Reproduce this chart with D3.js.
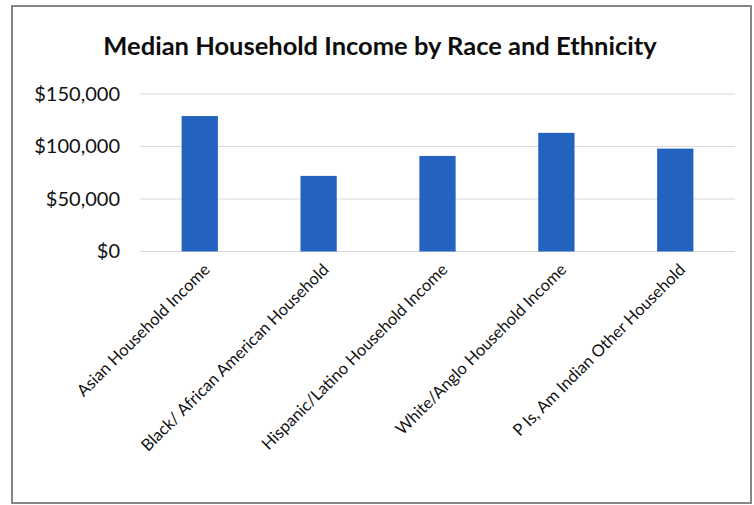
<!DOCTYPE html>
<html>
<head>
<meta charset="utf-8">
<script src="https://cdn.jsdelivr.net/npm/d3@7"></script>
<style>
  html, body { margin: 0; padding: 0; background: #fff; }
  svg { display: block; }
</style>
</head>
<body>
<svg id="chart" width="754" height="505"></svg>
<script>
// Median household income by race and ethnicity
const categories = [
  "Asian Household Income",
  "Black/ African American Household",
  "Hispanic/Latino Household Income",
  "White/Anglo Household Income",
  "P Is, Am Indian Other Household"
];
const incomes = [129000, 72000, 91000, 113000, 98000];
const tickValues = [0, 50000, 100000, 150000];
const tickLabels = ["$0", "$50,000", "$100,000", "$150,000"];

const svg = d3.select("#chart");
const plot = { left: 140, right: 735, top: 94, bottom: 251.5 };
const font = "Lato, 'Open Sans', sans-serif";

// chart frame
svg.append("rect")
  .attr("x", 12).attr("y", 6)
  .attr("width", 739).attr("height", 497)
  .attr("fill", "#fff")
  .attr("stroke", "#7a7a7a")
  .attr("stroke-width", 1.8);

// title
svg.append("text")
  .attr("x", 380).attr("y", 55)
  .attr("text-anchor", "middle")
  .attr("font-family", font)
  .attr("font-weight", "bold")
  .attr("font-size", 25.5)
  .attr("fill", "#0d0d0d")
  .text("Median Household Income by Race and Ethnicity");

const x = d3.scaleBand()
  .domain(categories)
  .range([plot.left, plot.right])
  .paddingInner(0.695)
  .paddingOuter(0.35);

const y = d3.scaleLinear()
  .domain([0, 150000])
  .range([plot.bottom, plot.top]);

// gridlines
svg.append("g")
  .selectAll("line")
  .data(tickValues)
  .join("line")
  .attr("x1", plot.left).attr("x2", plot.right)
  .attr("y1", d => y(d)).attr("y2", d => y(d))
  .attr("stroke", "#d9d9d9")
  .attr("stroke-width", 1.2);

// y axis labels
const yAxis = d3.axisLeft(y)
  .tickValues(tickValues)
  .tickFormat((d, i) => tickLabels[i])
  .tickSize(0)
  .tickPadding(0);
const yg = svg.append("g")
  .attr("transform", `translate(120,0)`)
  .call(yAxis);
yg.select(".domain").remove();
yg.selectAll("text")
  .attr("font-family", font)
  .attr("font-size", 20)
  .attr("fill", "#111");

// bars
svg.append("g")
  .selectAll("rect")
  .data(incomes)
  .join("rect")
  .attr("x", (d, i) => x(categories[i]))
  .attr("width", x.bandwidth())
  .attr("y", d => y(d))
  .attr("height", d => y(0) - y(d))
  .attr("fill", "#2362bf");

// rotated category labels
const xAxis = d3.axisBottom(x).tickSize(0).tickPadding(0);
const xg = svg.append("g")
  .attr("transform", `translate(0,${plot.bottom})`)
  .call(xAxis);
xg.select(".domain").remove();
xg.selectAll("text")
  .attr("font-family", font)
  .attr("font-size", 16.5)
  .attr("fill", "#111")
  .attr("text-anchor", "end")
  .attr("dy", "0.35em")
  .attr("transform", "translate(7,15) rotate(-45)");
</script>
</body>
</html>
